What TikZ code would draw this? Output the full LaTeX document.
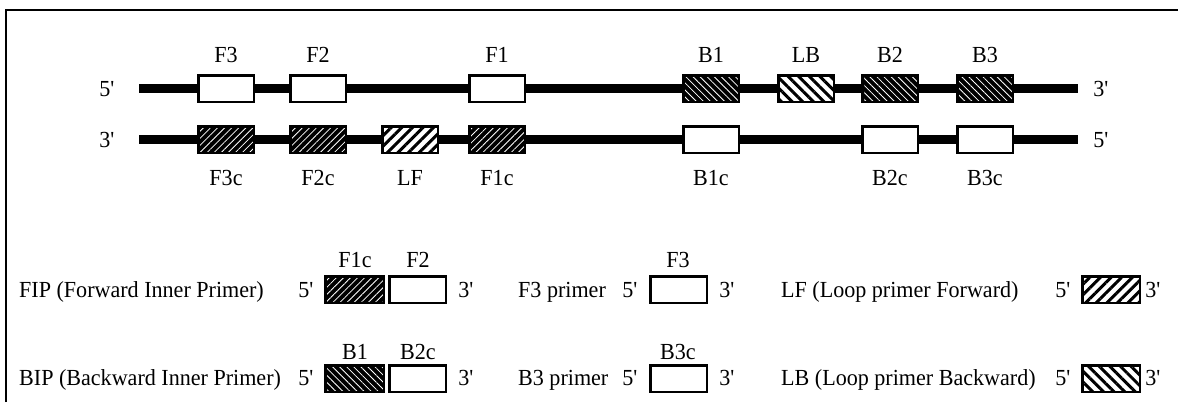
\documentclass[tikz,border=0pt]{standalone}
\usepackage{fontspec}
\setmainfont{Liberation Serif}[FakeStretch=0.96]
\usetikzlibrary{patterns.meta}
\newcommand{\pr}[1]{#1\textquotesingle}
\begin{document}
\begin{tikzpicture}[x=1pt,y=-1pt,
  txt/.style={inner sep=0pt, font=\fontsize{23pt}{27pt}\selectfont, anchor=base},
  txtw/.style={txt, anchor=base west},
  strand/.style={line width=9pt},
  frame/.style={line width=1.5pt},
  seg/.style={draw, line width=2.5pt, minimum height=26.5pt, minimum width=55.5pt, inner sep=0pt},
  plain/.style={seg, fill=white},
  fdark/.style={seg, preaction={fill=black}, pattern={Lines[angle=45,distance=5pt,line width=0.8pt]}, pattern color=white},
  bdark/.style={seg, preaction={fill=black}, pattern={Lines[angle=-45,distance=5pt,line width=0.8pt]}, pattern color=white},
  flight/.style={seg, preaction={fill=white}, pattern={Lines[angle=45,distance=7.5pt,line width=3pt]}, pattern color=black},
  blight/.style={seg, preaction={fill=white}, pattern={Lines[angle=-45,distance=7.5pt,line width=3pt]}, pattern color=black},
]
\useasboundingbox (0,0) rectangle (1178,402);
% frame
\coordinate (fb) at (6,402); \coordinate (fc) at (6,10); \coordinate (fr) at (1178,10);
\draw[frame] (fb) -- (fc) -- (fr);

% strands
\coordinate (tL) at (139,88.5); \coordinate (tR) at (1078,88.5);
\coordinate (bL) at (139,139.5); \coordinate (bR) at (1078,139.5);
\draw[strand] (tL) -- (tR);
\draw[strand] (bL) -- (bR);
\node[txt] (t5) at (107,96) {\pr{5}};
\node[txt] (t3) at (1101,96) {\pr{3}};
\node[txt] (b3) at (107,147) {\pr{3}};
\node[txt] (b5) at (1101,147) {\pr{5}};

% top row boxes
\node[plain] (F3) at (226,88.5) {};
\node[plain] (F2) at (318,88.5) {};
\node[plain] (F1) at (497,88.5) {};
\node[bdark] (B1) at (711,88.5) {};
\node[blight] (LB) at (806,88.5) {};
\node[bdark] (B2) at (890,88.5) {};
\node[bdark] (B3) at (985,88.5) {};
\node[txt] (lF3) at (226,62) {F3};
\node[txt] (lF2) at (318,62) {F2};
\node[txt] (lF1) at (497,62) {F1};
\node[txt] (lB1) at (711,62) {B1};
\node[txt] (lLB) at (806,62) {LB};
\node[txt] (lB2) at (890,62) {B2};
\node[txt] (lB3) at (985,62) {B3};

% bottom row boxes
\node[fdark] (F3c) at (226,139.5) {};
\node[fdark] (F2c) at (318,139.5) {};
\node[flight] (LF) at (410,139.5) {};
\node[fdark] (F1c) at (497,139.5) {};
\node[plain] (B1c) at (711,139.5) {};
\node[plain] (B2c) at (890,139.5) {};
\node[plain] (B3c) at (985,139.5) {};
\node[txt] (lF3c) at (226,185) {F3c};
\node[txt] (lF2c) at (318,185) {F2c};
\node[txt] (lLF) at (410,185) {LF};
\node[txt] (lF1c) at (497,185) {F1c};
\node[txt] (lB1c) at (711,185) {B1c};
\node[txt] (lB2c) at (890,185) {B2c};
\node[txt] (lB3c) at (985,185) {B3c};

% legend row 1
\node[txtw] (fip) at (19,297) {FIP (Forward Inner Primer)};
\node[txt] (fip5) at (306,297) {\pr{5}};
\node[fdark, minimum width=58.5pt] (fipA) at (354.5,289.5) {};
\node[plain, minimum width=56.5pt] (fipB) at (417.5,289.5) {};
\node[txt] (fip3) at (466,297) {\pr{3}};
\node[txt] (lfipA) at (355,267) {F1c};
\node[txt] (lfipB) at (418,267) {F2};

\node[txtw] (f3p) at (518,297) {F3 primer};
\node[txt] (f3p5) at (630,297) {\pr{5}};
\node[plain, minimum width=56.5pt] (f3pA) at (678.5,289.5) {};
\node[txt] (f3p3) at (727,297) {\pr{3}};
\node[txt] (lf3pA) at (678,267) {F3};

\node[txtw] (lfp) at (781,297) {LF (Loop primer Forward)};
\node[txt] (lfp5) at (1063,297) {\pr{5}};
\node[flight, minimum width=57.5pt] (lfpA) at (1111,289.5) {};
\node[txt] (lfp3) at (1153,297) {\pr{3}};

% legend row 2
\node[txtw] (bip) at (19,385.5) {BIP (Backward Inner Primer)};
\node[txt] (bip5) at (306,385.5) {\pr{5}};
\node[bdark, minimum width=58.5pt] (bipA) at (354.5,378.5) {};
\node[plain, minimum width=56.5pt] (bipB) at (417.5,378.5) {};
\node[txt] (bip3) at (466,385.5) {\pr{3}};
\node[txt] (lbipA) at (355,359) {B1};
\node[txt] (lbipB) at (418,359) {B2c};

\node[txtw] (b3p) at (518,385.5) {B3 primer};
\node[txt] (b3p5) at (630,385.5) {\pr{5}};
\node[plain, minimum width=56.5pt] (b3pA) at (678.5,378.5) {};
\node[txt] (b3p3) at (727,385.5) {\pr{3}};
\node[txt] (lb3pA) at (678,359) {B3c};

\node[txtw] (lbp) at (781,385.5) {LB (Loop primer Backward)};
\node[txt] (lbp5) at (1063,385.5) {\pr{5}};
\node[blight, minimum width=57.5pt] (lbpA) at (1111,378.5) {};
\node[txt] (lbp3) at (1153,385.5) {\pr{3}};
\end{tikzpicture}
\end{document}
